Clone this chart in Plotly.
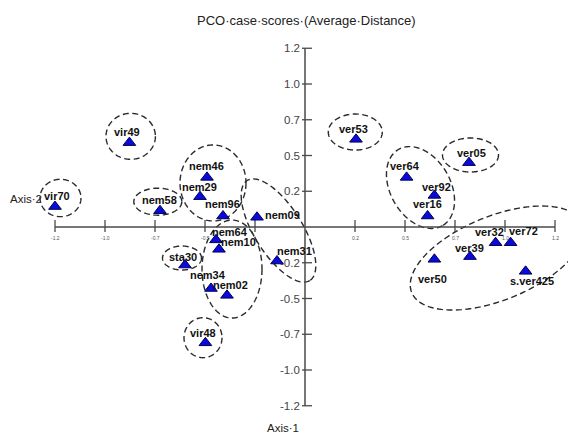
import numpy as np
import plotly.graph_objects as go

# ---------------- data ----------------
names = ["vir70", "vir49", "nem58", "nem46", "nem29", "nem96", "nem09", "nem64",
         "nem10", "sta30", "nem34", "nem02", "vir48", "nem31", "ver53", "ver05",
         "ver64", "ver92", "ver16", "ver32", "ver72", "ver39", "ver50", "s.ver425"]
axis1 = [-1.25, -0.878, -0.725, -0.49, -0.525, -0.41, -0.24, -0.445,
         -0.43, -0.60, -0.47, -0.39, -0.498, -0.14, 0.255, 0.82,
         0.508, 0.647, 0.613, 0.953, 1.028, 0.825, 0.647, 1.103]
axis2 = [0.143, 0.59, 0.114, 0.347, 0.212, 0.077, 0.068, -0.09,
         -0.156, -0.266, -0.43, -0.478, -0.81, -0.238, 0.613, 0.45,
         0.347, 0.221, 0.077, -0.11, -0.11, -0.207, -0.226, -0.31]

tick_vals = [-1.25, -1.0, -0.75, -0.5, -0.25, 0.25, 0.5, 0.75, 1.0, 1.25]
x_tick_text = ["-1.2", "-1.0", "-0.7", "-0.5", "", "0.2", "0.5", "0.7", "1.0", "1.2"]
y_tick_text = ["-1.2", "-1.0", "-0.7", "-0.5", "-0.2", "0.2", "0.5", "0.7", "1.0", "1.2"]

title_text = "PCO·case·scores·(Average·Distance)"
x_title = "Axis·1"
y_title = "Axis·2"

# ---------------- layout / styles ----------------
W, H = 576, 435
PAGE = 8                      # default page margin around the figure
ORIGIN = (305, 227)           # where (0,0) sits in the window
SX, SY = 200.0, 143.0         # px per data unit
XR = [(PAGE - ORIGIN[0]) / SX, (PAGE + W - ORIGIN[0]) / SX]
YR = [(ORIGIN[1] - PAGE - H) / SY, (ORIGIN[1] - PAGE) / SY]


def paper(sx, sy):
    return (sx - PAGE) / W, 1 - (sy - PAGE) / H


FONT = "Liberation Sans, Arial, sans-serif"
AXC = "#4a4a4a"

# label offsets in px (dx right, dy up)
label_shift = {
    "vir70": (2, 11), "vir49": (-2, 11), "nem58": (-1, 11), "nem46": (-1, 11),
    "nem29": (-1, 10), "nem96": (-1, 12), "nem09": (25, 2), "nem64": (14, 8),
    "nem10": (19, 7), "sta30": (-2, 8), "nem34": (-3, 13), "nem02": (3, 10),
    "vir48": (-2, 10), "nem31": (17, 10), "ver53": (-3, 10), "ver05": (2, 10),
    "ver64": (-2, 11), "ver92": (2, 8), "ver16": (0, 12), "ver32": (-6, 11),
    "ver72": (13, 12), "ver39": (-1, 9), "ver50": (-2, -20), "s.ver425": (6, -10),
}

# group outlines: center (data), semi-axes (px), rotation (deg, clockwise on screen)
groups = [
    ((-1.2225, 0.203), 20.5, 18.7, 0),
    ((-0.8715, 0.634), 24.7, 23, 0),
    ((-0.736, 0.177), 24, 13.5, 0),
    ((-0.46, 0.308), 33, 38, 0),
    ((-0.1325, -0.0245), 59, 24, 58),
    ((-0.365, -0.294), 30, 49, 0),
    ((-0.615, -0.217), 19.5, 12, 0),
    ((-0.51, -0.774), 19, 20, 0),
    ((0.2515, 0.664), 27, 18, 0),
    ((0.8275, 0.5035), 28, 17, 0),
    ((0.5775, 0.276), 44, 30, 60),
    ((0.96, -0.217), 92, 42, -22),
]

fig = go.Figure()

shapes = []
t = np.linspace(0, 2 * np.pi, 160)
for (cx, cy), a, b, ang in groups:
    th = np.deg2rad(ang)
    px = a * np.cos(t) * np.cos(th) - b * np.sin(t) * np.sin(th)
    py = a * np.cos(t) * np.sin(th) + b * np.sin(t) * np.cos(th)
    xs = cx + px / SX
    ys = cy - py / SY
    path = "M " + " L ".join(f"{x:.5f},{y:.5f}" for x, y in zip(xs, ys)) + " Z"
    shapes.append(dict(type="path", path=path, xref="x", yref="y",
                       line=dict(color="#2a2a2a", width=1.4, dash="6px,3.5px"),
                       fillcolor="rgba(0,0,0,0)", layer="below"))

# axis lines
shapes.append(dict(type="line", xref="x", yref="y", x0=min(tick_vals), x1=max(tick_vals),
                   y0=0, y1=0, line=dict(color=AXC, width=1.5), layer="below"))
shapes.append(dict(type="line", xref="x", yref="y", y0=min(tick_vals), y1=max(tick_vals),
                   x0=0, x1=0, line=dict(color=AXC, width=1.5), layer="below"))

# tick marks (pixel-sized, anchored at the data positions)
for v in tick_vals:
    shapes.append(dict(type="line", xref="x", yref="y", x0=v, x1=v,
                       ysizemode="pixel", yanchor=0, y0=-5, y1=7,
                       line=dict(color=AXC, width=1.3), layer="below"))
    shapes.append(dict(type="line", xref="x", yref="y", y0=v, y1=v,
                       xsizemode="pixel", xanchor=0, x0=-3, x1=7,
                       line=dict(color=AXC, width=1.3), layer="below"))

annotations = []
for v, txt in zip(tick_vals, x_tick_text):
    if txt:
        annotations.append(dict(x=v, y=0, xref="x", yref="y", text=txt, showarrow=False,
                                xanchor="center", yanchor="top", yshift=-6,
                                font=dict(family=FONT, size=5, color="#555555")))
for v, txt in zip(tick_vals, y_tick_text):
    annotations.append(dict(x=0, y=v, xref="x", yref="y", text=txt, showarrow=False,
                            xanchor="right", yanchor="middle", xshift=-3,
                            font=dict(family=FONT, size=11.5, color="#444444")))

# points
fig.add_trace(go.Scatter(x=axis1, y=axis2, mode="markers",
                         marker=dict(symbol="triangle-up", size=11, color="#0a0adc",
                                     line=dict(color="#000050", width=1)),
                         hoverinfo="skip", showlegend=False))

for n, x, y in zip(names, axis1, axis2):
    dx, dy = label_shift[n]
    annotations.append(dict(x=x, y=y, xref="x", yref="y", text=f"<b>{n}</b>", showarrow=False,
                            xanchor="center", yanchor="middle", xshift=dx, yshift=dy,
                            font=dict(family=FONT, size=11, color="#111111")))

for txt, (sx, sy), anchor, size in [(title_text, (306, 21), "center", 13),
                                    (x_title, (283, 428), "center", 11.5),
                                    (y_title, (8, 199), "left", 11.5)]:
    px_, py_ = paper(sx, sy)
    annotations.append(dict(x=px_, y=py_, xref="paper", yref="paper", text=txt,
                            showarrow=False, xanchor=anchor, yanchor="middle",
                            font=dict(family=FONT, size=size, color="#222222")))

fig.update_layout(
    width=W, height=H, margin=dict(l=0, r=0, t=0, b=0),
    paper_bgcolor="white", plot_bgcolor="white",
    xaxis=dict(range=XR, visible=False, fixedrange=True),
    yaxis=dict(range=YR, visible=False, fixedrange=True),
    shapes=shapes, annotations=annotations, showlegend=False,
)

fig.write_html("out.html")
